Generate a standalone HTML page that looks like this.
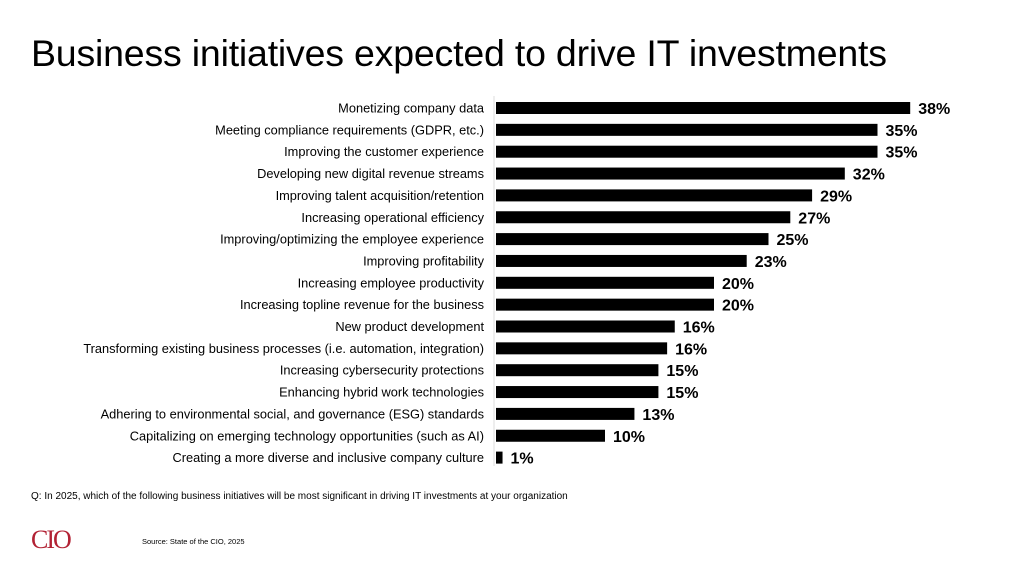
<!DOCTYPE html>
<html><head><meta charset="utf-8">
<style>
body{margin:0;width:1024px;height:576px;background:#fff;font-family:"Liberation Sans",Arial,sans-serif;overflow:hidden;position:relative}
#title{position:absolute;left:31px;top:32px;font-size:37.5px;color:#000;margin:0;font-weight:normal;letter-spacing:-0.2px;white-space:nowrap}
#q{position:absolute;left:31px;top:491px;font-size:10px;color:#000;white-space:nowrap}
#src{position:absolute;left:142px;top:537px;font-size:7.5px;color:#000}
#logo{position:absolute;left:31px;top:525px;font-family:"Liberation Serif",serif;font-size:26px;color:#b22234;letter-spacing:-2px}
</style></head><body>
<h1 id="title">Business initiatives expected to drive IT investments</h1>
<svg id="chart" width="1024" height="576" style="position:absolute;left:0;top:0"></svg>
<div id="q">Q: In 2025, which of the following business initiatives will be most significant in driving IT investments at your organization</div>
<div id="logo">CIO</div>
<div id="src">Source: State of the CIO, 2025</div>
<script>
const categories=["Monetizing company data","Meeting compliance requirements (GDPR, etc.)","Improving the customer experience","Developing new digital revenue streams","Improving talent acquisition/retention","Increasing operational efficiency","Improving/optimizing the employee experience","Improving profitability","Increasing employee productivity","Increasing topline revenue for the business","New product development","Transforming existing business processes (i.e. automation, integration)","Increasing cybersecurity protections","Enhancing hybrid work technologies","Adhering to environmental social, and governance (ESG) standards","Capitalizing on emerging technology opportunities (such as AI)","Creating a more diverse and inclusive company culture"];
const values=[38,35,35,32,29,27,25,23,20,20,16.4,15.7,14.9,14.9,12.7,10,0.6];
const valueLabels=["38%","35%","35%","32%","29%","27%","25%","23%","20%","20%","16%","16%","15%","15%","13%","10%","1%"];
const svg=document.getElementById('chart');
const NS='http://www.w3.org/2000/svg';
const x0=496, perUnit=10.9, y0=102, step=21.85, bh=12;
const xs=v=>v*perUnit;
const ys=i=>y0+i*step;
const axis=document.createElementNS(NS,'line');
axis.setAttribute('x1',494);axis.setAttribute('x2',494);axis.setAttribute('y1',96);axis.setAttribute('y2',466);
axis.setAttribute('stroke','#ddd');axis.setAttribute('stroke-width','1');


svg.appendChild(axis);
categories.forEach((c,i)=>{
  const y=ys(i);
  const t=document.createElementNS(NS,'text');
  t.setAttribute('x',484);t.setAttribute('y',y+bh/2+4.5);t.setAttribute('text-anchor','end');
  t.setAttribute('font-size','12.8');t.textContent=c;
  
  
  svg.appendChild(t);
  const w=Math.max(xs(values[i]),6);
  const r=document.createElementNS(NS,'rect');
  r.setAttribute('x',x0);r.setAttribute('y',y);r.setAttribute('width',w);r.setAttribute('height',bh);
  r.setAttribute('fill','#000');
  
  
  svg.appendChild(r);
  const v=document.createElementNS(NS,'text');
  v.setAttribute('x',x0+w+8);v.setAttribute('y',y+bh/2+6);
  v.setAttribute('font-size','16');v.setAttribute('font-weight','bold');v.textContent=valueLabels[i];
  
  
  svg.appendChild(v);
});
</script>
</body></html>
